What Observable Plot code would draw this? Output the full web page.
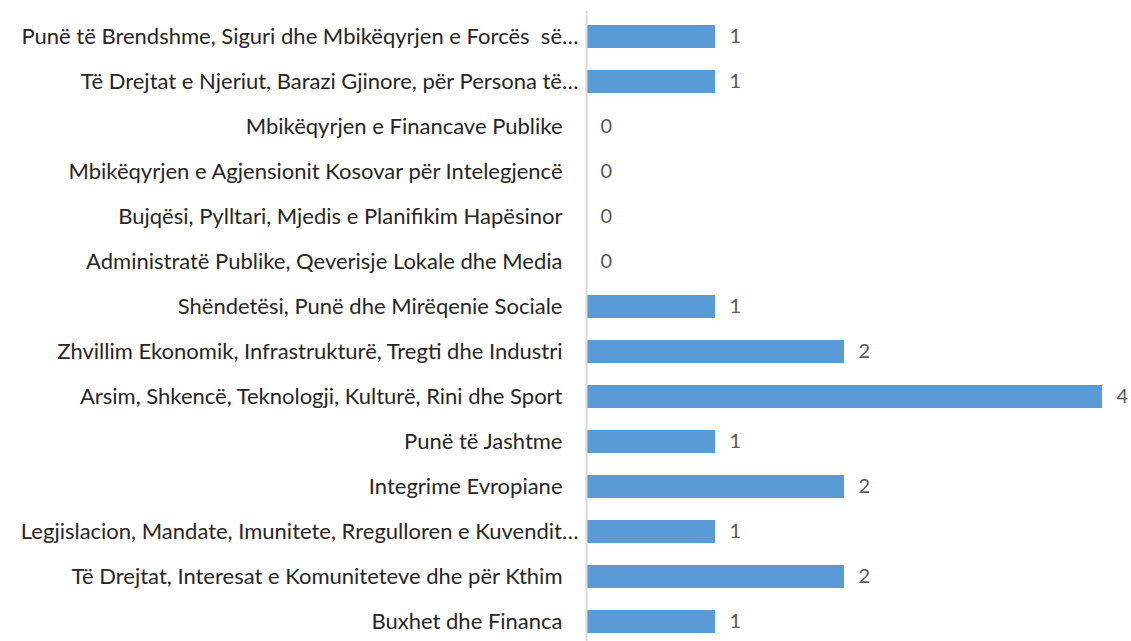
<!DOCTYPE html>
<html>
<head>
<meta charset="utf-8">
<script src="https://cdn.jsdelivr.net/npm/d3@7"></script>
<script src="https://cdn.jsdelivr.net/npm/@observablehq/plot@0.6"></script>
<style>
  html, body { margin: 0; padding: 0; background: #fff; }
  #chart { width: 1131px; height: 641px; overflow: hidden; }
</style>
</head>
<body>
<div id="chart"></div>
<script>
const categories = [
  "Punë të Brendshme, Siguri dhe Mbikëqyrjen e Forcës  së…",
  "Të Drejtat e Njeriut, Barazi Gjinore, për Persona të…",
  "Mbikëqyrjen e Financave Publike",
  "Mbikëqyrjen e Agjensionit Kosovar për Intelegjencë",
  "Bujqësi, Pylltari, Mjedis e Planifikim Hapësinor",
  "Administratë Publike, Qeverisje Lokale dhe Media",
  "Shëndetësi, Punë dhe Mirëqenie Sociale",
  "Zhvillim Ekonomik, Infrastrukturë, Tregti dhe Industri",
  "Arsim, Shkencë, Teknologji, Kulturë, Rini dhe Sport",
  "Punë të Jashtme",
  "Integrime Evropiane",
  "Legjislacion, Mandate, Imunitete, Rregulloren e Kuvendit…",
  "Të Drejtat, Interesat e Komuniteteve dhe për Kthim",
  "Buxhet dhe Financa"
];
const values = [1, 1, 0, 0, 0, 0, 1, 2, 4, 1, 2, 1, 2, 1];

const data = categories.map((c, i) => ({category: c, value: values[i]}));
const truncated = categories.filter(c => c.endsWith("…"));
const full = categories.filter(c => !c.endsWith("…"));

const chart = Plot.plot({
  width: 1131,
  height: 641,
  marginLeft: 586,
  marginRight: 29,
  marginTop: 11,
  marginBottom: -6,
  style: {fontFamily: "Lato, sans-serif", background: "#fff", overflow: "visible"},
  x: {domain: [0, 4], axis: null},
  y: {domain: categories, paddingInner: 0.49, paddingOuter: 0.245, label: null, axis: null},
  marks: [
    Plot.axisY(full, {tickSize: 0, tickPadding: 24, fontSize: 22, fill: "#262626", label: null}),
    Plot.axisY(truncated, {tickSize: 0, tickPadding: 8, fontSize: 22, fill: "#262626", label: null}),
    Plot.barX(data, {x: "value", y: "category", fill: "#5B9BD5"}),
    Plot.ruleX([0], {stroke: "#d9d9d9", strokeWidth: 2}),
    Plot.text(data, {x: "value", y: "category", text: d => String(d.value), dx: 14, textAnchor: "start", fontSize: 20, fill: "#595959"})
  ]
});
document.getElementById("chart").appendChild(chart);
</script>
</body>
</html>
